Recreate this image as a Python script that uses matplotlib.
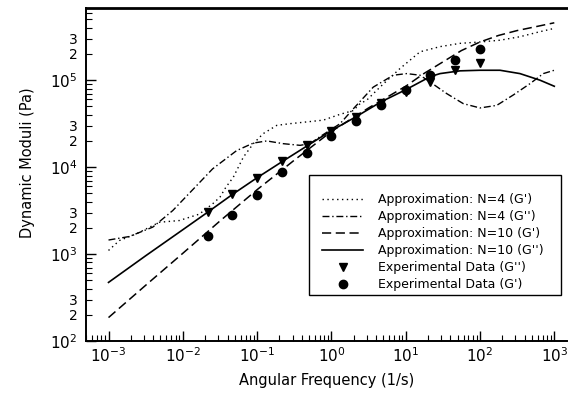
import numpy as np
import matplotlib
matplotlib.use("Agg")
import matplotlib.pyplot as plt
import matplotlib.ticker as mticker
from matplotlib.patches import Rectangle

# experimental data (frequency in 1/s, moduli in Pa)
freq_exp = [0.0215, 0.0464, 0.1, 0.215, 0.464, 1, 2.15, 4.64, 10, 21.5, 46.4, 100]
g2_exp = [3020, 4900, 7590, 11750, 17800, 26300, 38000, 55000, 72400, 95500, 130300, 158500]
g1_exp = [1620, 2825, 4840, 8710, 14450, 22600, 33650, 51300, 76700, 114300, 169800, 227500]

# N=4 approximation, G'
x_n4_g1 = [0.001, 0.0014, 0.00234, 0.00483, 0.00897, 0.0167, 0.0252, 0.0316, 0.0381,
           0.0479, 0.0652, 0.0889, 0.121, 0.184, 0.277, 0.466, 0.778, 1.31, 1.97,
           2.43, 2.99, 4.51, 8.37, 15.6, 29.0, 53.8, 100, 186, 345, 641, 1000]
y_n4_g1 = [1100, 1430, 1700, 2320, 2430, 2880, 3780, 4510, 5890,
           7670, 13000, 18600, 24300, 30200, 31600, 33100, 34700, 40500, 44700,
           53700, 58900, 83200, 136000, 212000, 243000, 265000, 275000, 288000, 316000, 361000, 394000]

# N=4 approximation, G''
x_n4_g2 = [0.001, 0.0019, 0.00394, 0.00731, 0.0136, 0.0252, 0.0531, 0.0889, 0.135,
           0.225, 0.378, 0.515, 0.703, 1.31, 1.97, 3.66, 6.81, 10.3, 15.6, 21.2,
           35.6, 59.6, 100, 168, 281, 471, 711, 1000]
y_n4_g2 = [1450, 1590, 2040, 3160, 5500, 9550, 15500, 18900, 20000,
           18600, 17800, 18600, 22400, 31600, 46800, 83200, 114000, 119000, 114000, 95500,
           70100, 53700, 47900, 51300, 67600, 91200, 119000, 130000]

# N=10 approximation, G'
x_n10_g1 = [0.001, 0.00316, 0.01, 0.0316, 0.1, 0.316, 1, 3.16, 10, 17.8, 31.6,
            56.2, 100, 178, 316, 562, 1000]
y_n10_g1 = [186, 437, 1020, 2400, 5500, 12000, 25700, 47900, 85100, 120000, 162000,
            219000, 275000, 327000, 372000, 412000, 457000]

# N=10 approximation, G''
x_n10_g2 = [0.001, 0.00316, 0.01, 0.0215, 0.0464, 0.1, 0.215, 0.464, 1, 2.15,
            4.64, 10, 21.5, 29, 53.8, 100, 186, 345, 641, 1000]
y_n10_g2 = [472, 955, 1905, 3020, 4840, 7550, 11500, 17400, 26300, 38000,
            56200, 77600, 110000, 119000, 128000, 130000, 130000, 119000, 100000, 85100]

plt.rcParams["font.family"] = "DejaVu Sans"

fig = plt.figure(figsize=(5.68, 3.95), dpi=100)
ax = fig.add_axes([86 / 568, 1 - 341 / 395, 481 / 568, 333 / 395])

ax.plot(x_n4_g1, y_n4_g1, color="black", lw=1.0, linestyle=(0, (1, 2.5)),
        label="Approximation: N=4 (G')")
ax.plot(x_n4_g2, y_n4_g2, color="black", lw=1.0, linestyle=(0, (5, 2, 1, 2)),
        label="Approximation: N=4 (G'')")
ax.plot(x_n10_g1, y_n10_g1, color="black", lw=1.1, linestyle=(0, (6, 3)),
        label="Approximation: N=10 (G')")
ax.plot(x_n10_g2, y_n10_g2, color="black", lw=1.2, linestyle="-",
        label="Approximation: N=10 (G'')")
ax.plot(freq_exp, g2_exp, linestyle="none", marker="v", color="black", ms=6,
        label="Experimental Data (G'')")
ax.plot(freq_exp, g1_exp, linestyle="none", marker="o", color="black", ms=6,
        label="Experimental Data (G')")

ax.set_xscale("log")
ax.set_yscale("log")
ax.set_xlim(10 ** -3.303, 10 ** 3.171)
ax.set_ylim(100, 10 ** 5.83)

ax.xaxis.set_major_locator(mticker.LogLocator(base=10, numticks=20))
ax.xaxis.set_minor_locator(mticker.LogLocator(base=10, subs=np.arange(2, 10), numticks=20))
ax.xaxis.set_minor_formatter(mticker.NullFormatter())
ax.yaxis.set_major_locator(mticker.LogLocator(base=10, numticks=20))
ax.yaxis.set_minor_locator(mticker.LogLocator(base=10, subs=np.arange(2, 10), numticks=20))


def minor_fmt(v, pos):
    m = v / 10 ** np.floor(np.log10(v) + 1e-9)
    if abs(m - 2) < 0.01 or abs(m - 3) < 0.01:
        return f"{int(round(m))}"
    return ""


ax.yaxis.set_minor_formatter(mticker.FuncFormatter(minor_fmt))

ax.tick_params(which="both", direction="in", colors="black")
ax.tick_params(which="major", length=7, width=1.0, labelsize=11)
ax.tick_params(which="minor", length=4, width=0.8, labelsize=10)
ax.tick_params(axis="y", which="both", pad=6)
ax.tick_params(axis="x", which="both", pad=4)

for s in ["left", "bottom"]:
    ax.spines[s].set_linewidth(1.4)
ax.spines["top"].set_linewidth(2.0)
ax.spines["right"].set_visible(False)

ax.set_xlabel("Angular Frequency (1/s)", fontsize=10.5)
ax.set_ylabel("Dynamic Moduli (Pa)", fontsize=10.5)
ax.xaxis.set_label_coords(0.5, (341 - 381) / 333)
ax.xaxis.label.set_va("center")
ax.yaxis.set_label_coords((28 - 86) / 481, 0.535)
ax.yaxis.label.set_va("center")

# legend frame
ax.add_patch(Rectangle((0.4636, 0.138), 0.524, 0.3605, transform=ax.transAxes,
                       facecolor="white", edgecolor="black", lw=1.0, zorder=4))
leg = ax.legend(loc="upper left", bbox_to_anchor=(0.4905, 0.443), frameon=False,
                fontsize=9, handlelength=3.3, handletextpad=1.2, labelspacing=0.32,
                borderpad=0, borderaxespad=0, numpoints=1)
leg.set_zorder(5)

fig.savefig("out.png", dpi=100)
